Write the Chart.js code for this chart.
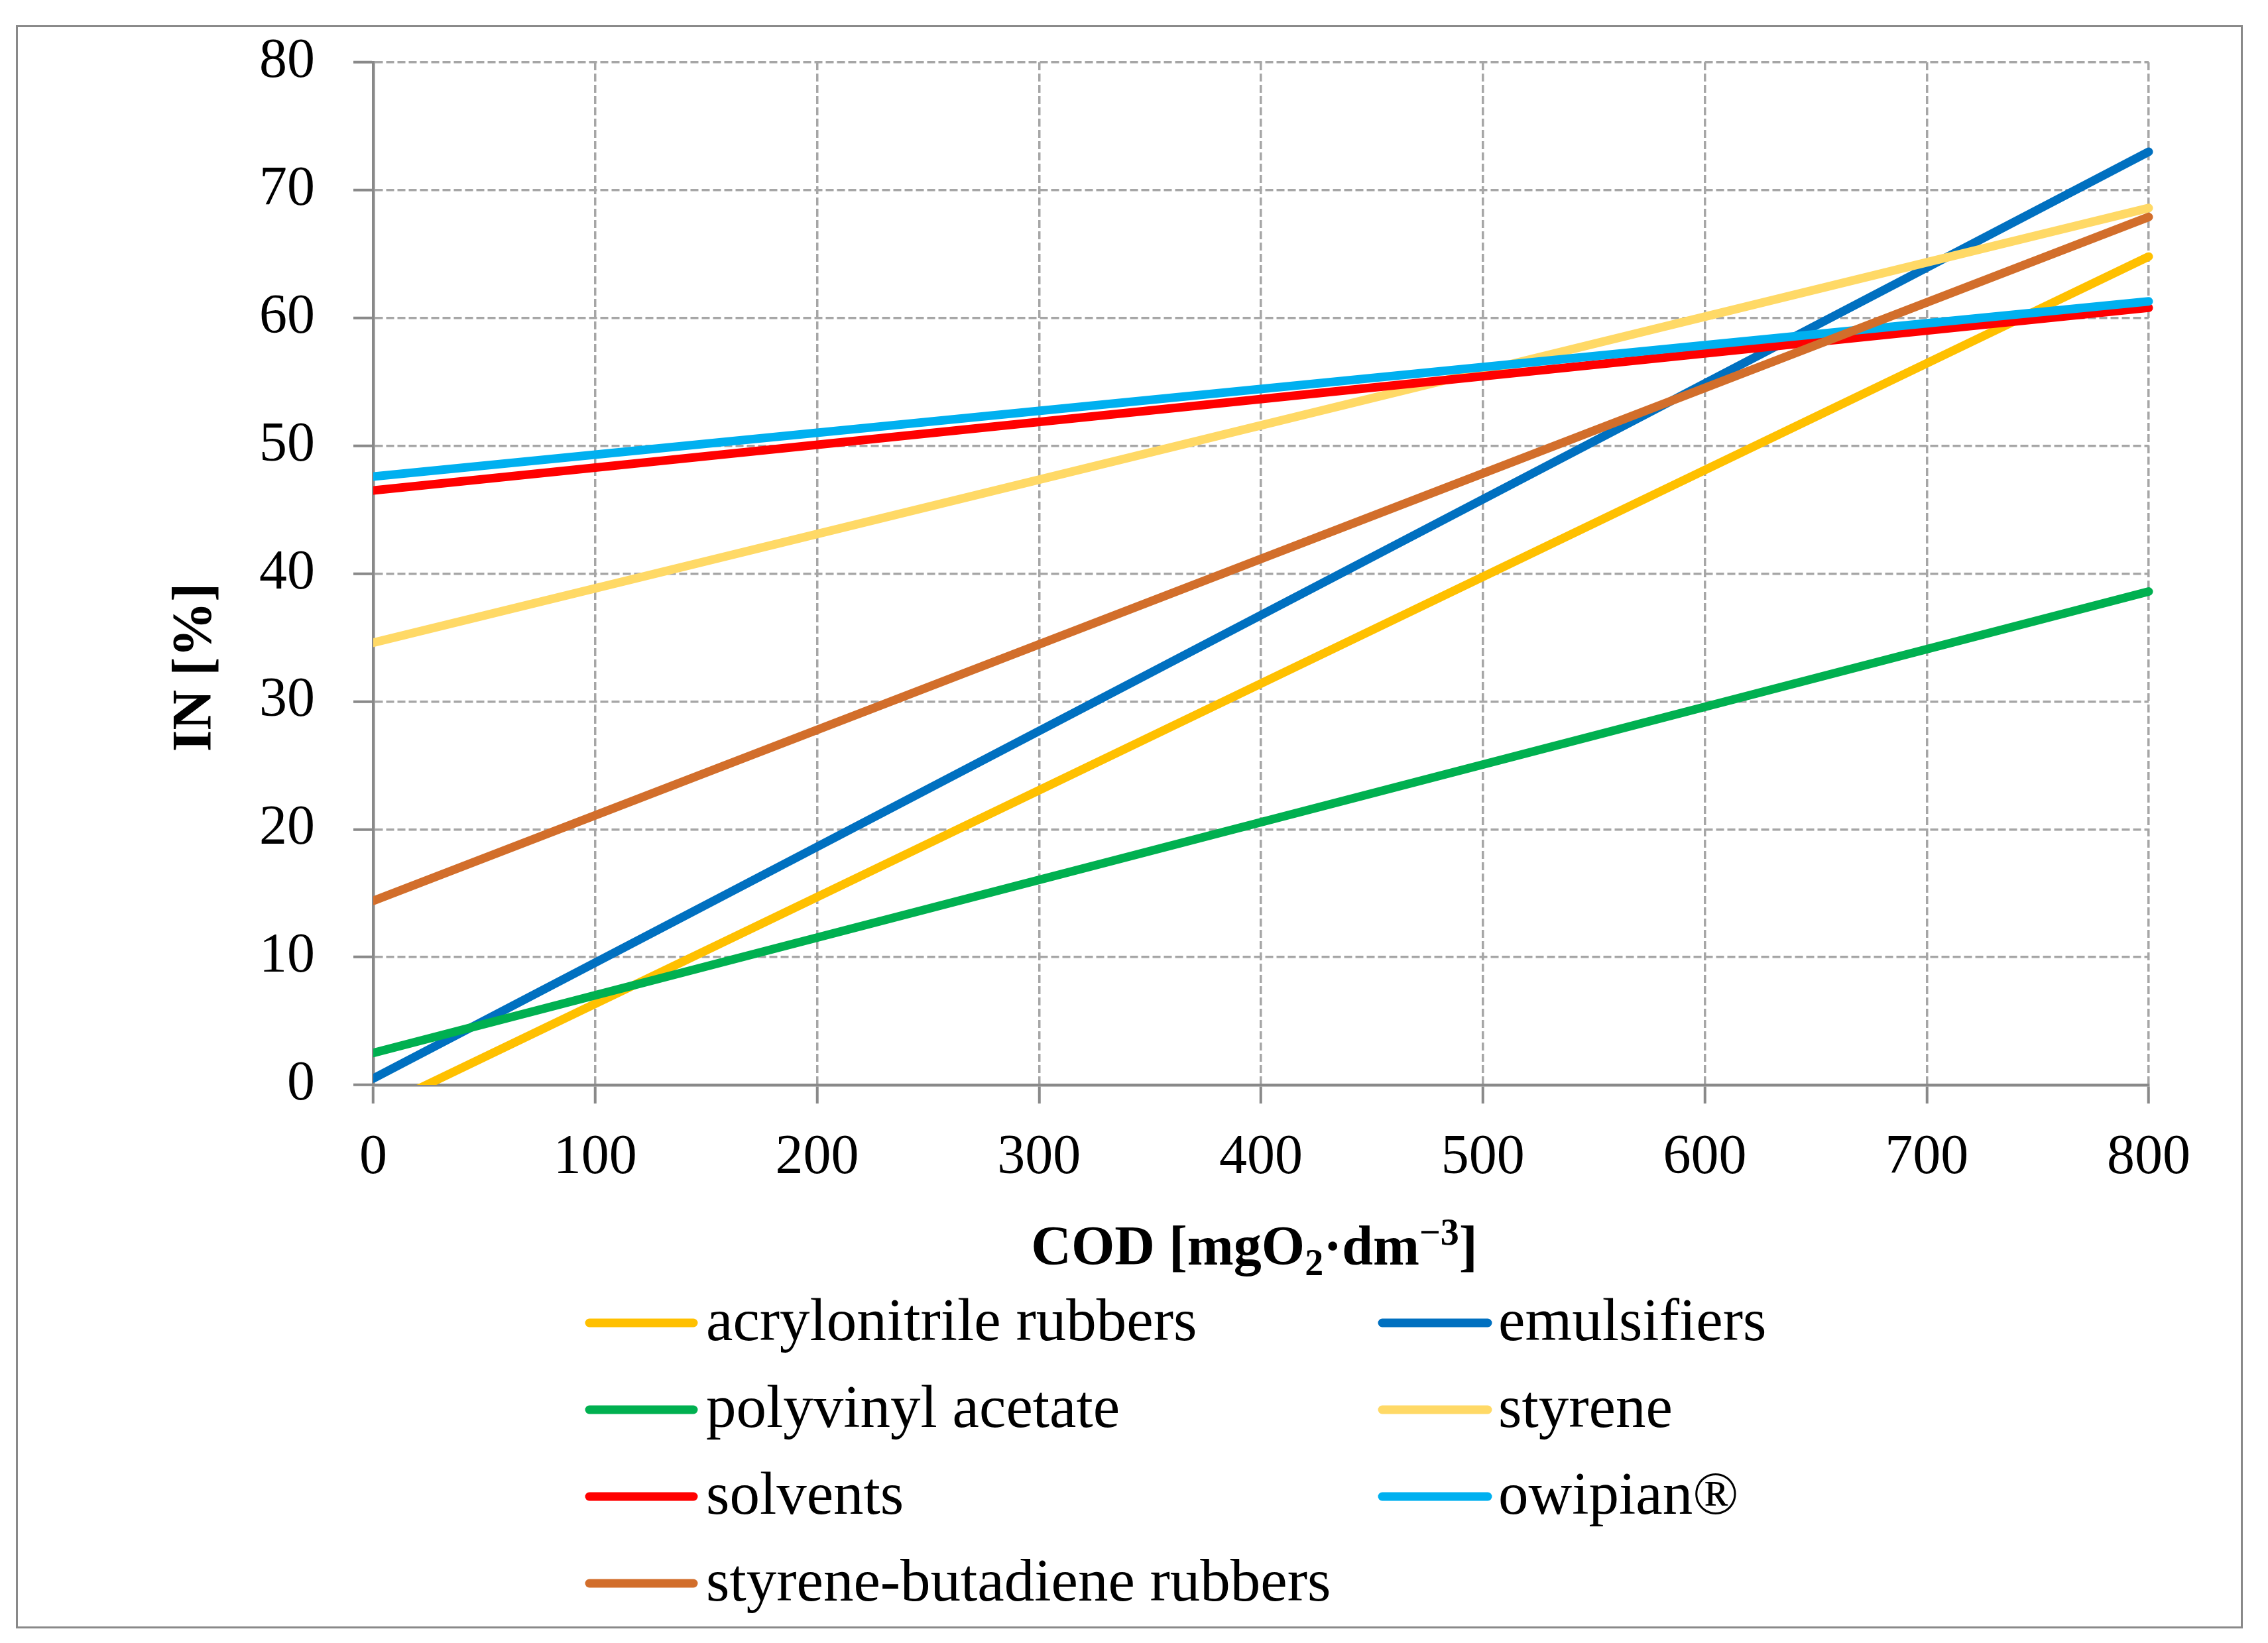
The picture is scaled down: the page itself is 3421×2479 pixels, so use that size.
<!DOCTYPE html>
<html>
<head>
<meta charset="utf-8">
<script src="https://cdn.jsdelivr.net/npm/chart.js@4.4.1/dist/chart.umd.min.js"></script>
<style>
  html, body { margin: 0; padding: 0; background: #fff; }
  #wrap { width: 3421px; height: 2479px; position: relative; }
</style>
</head>
<body>
<div id="wrap"><canvas id="chart"></canvas></div>
<script>
// COD values at both ends of each fitted line
const codValues = [0, 800];

// IN [%] values (at COD = 0 and COD = 800)
const acrylonitrile = [-2.0, 64.8];
const emulsifiers = [0.5, 73.0];
const polyvinylAcetate = [2.5, 38.6];
const styrene = [34.6, 68.6];
const solvents = [46.5, 60.8];
const owipian = [47.6, 61.3];
const styreneButadiene = [14.4, 67.9];

const seriesNames = ['acrylonitrile rubbers', 'emulsifiers', 'polyvinyl acetate', 'styrene',
  'solvents', 'owipian®', 'styrene-butadiene rubbers'];
const seriesValues = [acrylonitrile, emulsifiers, polyvinylAcetate, styrene, solvents, owipian, styreneButadiene];
const seriesColors = ['#FFC000', '#0070C0', '#00B050', '#FFD966', '#FF0000', '#00B0F0', '#D26E2B'];

const yTicks = [0, 10, 20, 30, 40, 50, 60, 70, 80];
const xTicks = [0, 100, 200, 300, 400, 500, 600, 700, 800];

const serif = "'Liberation Serif', 'Times New Roman', serif";
const axisGray = '#898989';
const gridGray = '#a6a6a6';

// 画外框、坐标轴标题和图例
const decorPlugin = {
  id: 'decor',
  afterDraw(chart) {
    const ctx = chart.ctx;
    ctx.save();

    // outer frame
    ctx.strokeStyle = axisGray;
    ctx.lineWidth = 3;
    ctx.strokeRect(25.5, 39.5, 3356, 2416);

    // y axis title
    ctx.fillStyle = '#000';
    ctx.font = 'bold 84px ' + serif;
    ctx.textAlign = 'center';
    ctx.textBaseline = 'alphabetic';
    ctx.save();
    ctx.translate(318, 1007);
    ctx.rotate(-Math.PI / 2);
    ctx.fillText('IN [%]', 0, 0);
    ctx.restore();

    // x axis title with subscript / superscript
    const parts = [
      { t: 'COD [mgO', size: 84, dy: 0 },
      { t: '2', size: 56, dy: 16 },
      { t: '·dm', size: 84, dy: 0 },
      { t: '−3', size: 56, dy: -30 },
      { t: ']', size: 84, dy: 0 }
    ];
    let total = 0;
    parts.forEach(p => {
      ctx.font = 'bold ' + p.size + 'px ' + serif;
      p.w = ctx.measureText(p.t).width;
      total += p.w;
    });
    let x = 1892 - total / 2;
    ctx.textAlign = 'left';
    parts.forEach(p => {
      ctx.font = 'bold ' + p.size + 'px ' + serif;
      ctx.fillText(p.t, x, 1908 + p.dy);
      x += p.w;
    });

    // legend, two columns
    const colLine = [[883, 1052], [2079, 2250]];
    const colText = [1065, 2260];
    const rowY = [1996, 2127, 2258, 2389];
    ctx.font = '91px ' + serif;
    ctx.lineCap = 'round';
    ctx.lineWidth = 13;
    chart.data.datasets.forEach((ds, i) => {
      const c = i % 2, r = Math.floor(i / 2);
      const y = rowY[r];
      ctx.strokeStyle = ds.borderColor;
      ctx.beginPath();
      ctx.moveTo(colLine[c][0] + 6, y);
      ctx.lineTo(colLine[c][1] - 6, y);
      ctx.stroke();
      ctx.fillStyle = '#000';
      ctx.fillText(ds.label, colText[c], y + 26);
    });

    ctx.restore();
  }
};

const datasets = seriesNames.map((name, i) => ({
  label: name,
  data: codValues.map((x, k) => ({ x: x, y: seriesValues[i][k] })),
  borderColor: seriesColors[i],
  backgroundColor: seriesColors[i],
  borderWidth: 13,
  borderCapStyle: 'round',
  pointRadius: 0,
  tension: 0,
  fill: false,
  order: seriesNames.length - i,
  clip: { left: 0, top: 20, right: 20, bottom: 0 }
}));

new Chart(document.getElementById('chart').getContext('2d'), {
  type: 'line',
  data: { datasets: datasets },
  options: {
    responsive: true,
    maintainAspectRatio: false,
    animation: false,
    devicePixelRatio: 1,
    layout: { padding: { left: 0, top: 94, right: 180, bottom: 642 } },
    plugins: {
      legend: { display: false },
      tooltip: { enabled: false }
    },
    scales: {
      x: {
        type: 'linear',
        min: xTicks[0],
        max: xTicks[xTicks.length - 1],
        afterBuildTicks: s => { s.ticks = xTicks.map(v => ({ value: v })); },
        ticks: { color: '#000', font: { family: serif, size: 84 }, padding: 33, maxRotation: 0 },
        grid: { color: gridGray, lineWidth: 3.5, tickLength: 28, tickColor: axisGray, tickWidth: 4, tickBorderDash: [] },
        border: { color: axisGray, width: 4.5, dash: [12, 5] },
        afterFit: s => { s.height = 200; s.paddingLeft = 0; s.paddingRight = 0; }
      },
      y: {
        min: yTicks[0],
        max: yTicks[yTicks.length - 1],
        afterBuildTicks: s => { s.ticks = yTicks.map(v => ({ value: v })); },
        ticks: { color: '#000', font: { family: serif, size: 84 }, padding: 58 },
        grid: { color: gridGray, lineWidth: 3.5, tickLength: 30, tickColor: axisGray, tickWidth: 4, tickBorderDash: [] },
        border: { color: axisGray, width: 4.5, dash: [12, 5] },
        afterFit: s => { s.width = 563; s.paddingTop = 0; s.paddingBottom = 0; }
      }
    }
  },
  plugins: [decorPlugin]
});
</script>
</body>
</html>
